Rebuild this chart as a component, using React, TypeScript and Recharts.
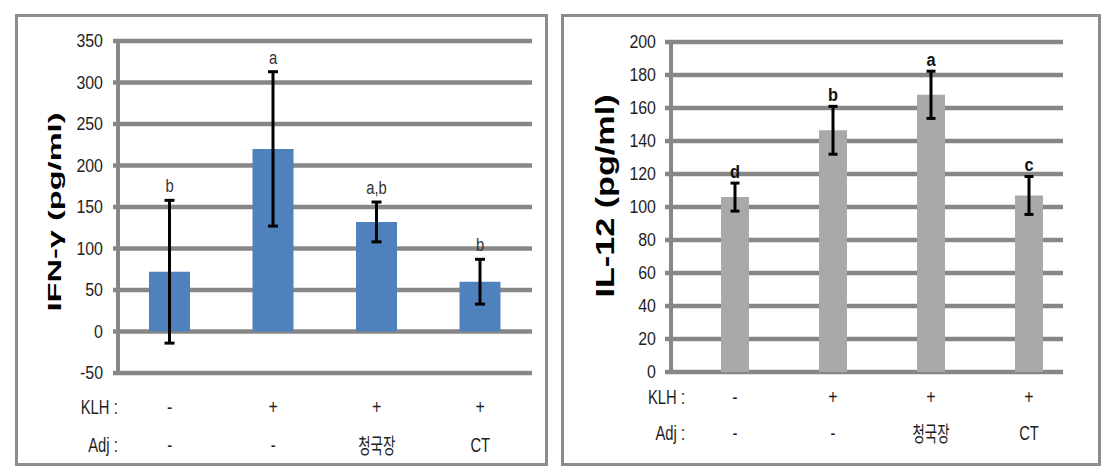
import React from "react"
import { Bar, BarChart, CartesianGrid, ErrorBar, LabelList, XAxis, YAxis } from "recharts"

const groups = ["g1", "g2", "g3", "g4"]
const klhRow = ["-", "+", "+", "+"]
const adjRow = ["-", "-", "청국장", "CT"]

const ifnMean = [72, 220, 132, 60]
const ifnErr = [86, 93, 24, 27]
const ifnSig = ["b", "a", "a,b", "b"]
const ifnTicks = [-50, 0, 50, 100, 150, 200, 250, 300, 350]

const il12Mean = [106, 146.5, 168, 107]
const il12Err = [8.5, 14.5, 14.3, 11.5]
const il12Sig = ["d", "b", "a", "c"]
const il12Ticks = [0, 20, 40, 60, 80, 100, 120, 140, 160, 180, 200]

const SANS = "'Liberation Sans', Arial, 'Noto Sans CJK KR', sans-serif"
const GRID = "#878787"
const TEXT = "#1e1e1e"

const buildRows = (mean: number[], err: number[], sig: string[]) =>
  groups.map((g, i) => ({ group: g, mean: mean[i], err: err[i], sig: sig[i] }))

// the source figure uses a tall, narrow face: squeeze a regular sans sideways
type NarrowProps = {
  x: number
  y: number
  anchor: "start" | "middle" | "end"
  size?: number
  sx?: number
  bold?: boolean
  fill?: string
  baseline?: "central" | "auto"
  children: React.ReactNode
}
const NarrowText = ({ x, y, anchor, size = 19, sx = 0.8, bold, fill = TEXT, baseline = "central", children }: NarrowProps) => (
  <g transform={`translate(${x},${y}) scale(${sx},1)`}>
    <text
      x={0}
      y={0}
      textAnchor={anchor}
      dominantBaseline={baseline}
      fontFamily={SANS}
      fontSize={size}
      fontWeight={bold ? 700 : 400}
      fill={fill}
    >
      {children}
    </text>
  </g>
)

const gridLine = (extendLeft: number, trimRight: number) => (p: any) => (
  <line
    key={p.key}
    x1={p.x1 - extendLeft}
    x2={p.x2 - trimRight}
    y1={p.y1}
    y2={p.y2}
    stroke={GRID}
    strokeWidth={4.5}
  />
)

const yTick = (p: any) => (
  <NarrowText x={p.x} y={p.y} anchor="end" sx={0.84}>
    {p.payload.value}
  </NarrowText>
)

const xTick = (row1: number, row2: number, headDx: number) => (props: any) => {
  const { x, y, index } = props
  const adj = adjRow[index]
  return (
    <g>
      {index === 0 && (
        <>
          <NarrowText x={x - headDx} y={y + row1} anchor="end" size={20} sx={0.74}>KLH :</NarrowText>
          <NarrowText x={x - headDx} y={y + row2} anchor="end" size={20} sx={0.74}>Adj :</NarrowText>
        </>
      )}
      <NarrowText x={x} y={y + row1} anchor="middle" size={20}>{klhRow[index]}</NarrowText>
      {adj === "청국장" ? (
        <text
          x={x}
          y={y + row2}
          textAnchor="middle"
          dominantBaseline="central"
          fontFamily={SANS}
          fontSize={21}
          fill={TEXT}
          textLength={37}
          lengthAdjust="spacingAndGlyphs"
        >
          {adj}
        </text>
      ) : (
        <NarrowText x={x} y={y + row2} anchor="middle" size={20} sx={0.74}>{adj}</NarrowText>
      )}
    </g>
  )
}

const sigLabel = (mean: number[], err: number[], bold: boolean, gap: number) => (props: any) => {
  const vb = props.viewBox ?? props
  const i = props.index
  const errPx = (vb.height * err[i]) / mean[i]
  return (
    <NarrowText
      x={vb.x + vb.width / 2}
      y={vb.y - errPx - gap}
      anchor="middle"
      baseline="auto"
      size={19}
      bold={bold}
      sx={bold ? 0.86 : 0.78}
      fill={bold ? "#111" : "#333"}
    >
      {props.value}
    </NarrowText>
  )
}

type TitleProps = { text: string; cx: number; cy: number; size: number; length: number }
const AxisTitle = ({ text, cx, cy, size, length }: TitleProps) => (
  <text
    x={cx}
    y={cy}
    transform={`rotate(-90 ${cx} ${cy})`}
    textAnchor="middle"
    dominantBaseline="central"
    fontFamily={SANS}
    fontWeight={700}
    fontSize={size}
    textLength={length}
    lengthAdjust="spacingAndGlyphs"
    fill="#000"
  >
    {text}
  </text>
)

const boxStyle = (left: number, width: number): React.CSSProperties => ({
  position: "absolute",
  left,
  top: 14,
  width,
  height: 452,
  border: "3px solid #8c8c8c",
  boxSizing: "border-box",
})

export default function App() {
  const ifnData = buildRows(ifnMean, ifnErr, ifnSig)
  const il12Data = buildRows(il12Mean, il12Err, il12Sig)

  return (
    <div style={{ position: "absolute", left: 0, top: 0, width: 1110, height: 473, background: "#fff" }}>
      <div style={boxStyle(15, 533)} />
      <div style={boxStyle(561, 540)} />

      <div style={{ position: "absolute", left: 0, top: 0 }}>
        <BarChart width={560} height={473} data={ifnData} margin={{ top: 41, right: 28, bottom: 0, left: 58 }}>
          <CartesianGrid vertical={false} horizontal={gridLine(5, 0)} />
          <XAxis
            dataKey="group"
            height={100}
            axisLine={false}
            tickLine={false}
            tickSize={0}
            tickMargin={0}
            interval={0}
            tick={xTick(34, 72, 52)}
          />
          <YAxis
            width={60}
            domain={[-50, 350]}
            ticks={ifnTicks}
            interval={0}
            axisLine={{ stroke: GRID, strokeWidth: 4 }}
            tickLine={false}
            tickSize={6}
            tickMargin={9}
            tick={yTick}
            label={<AxisTitle text="IFN-γ (pg/ml)" cx={54} cy={212} size={19} length={199} />}
          />
          <Bar dataKey="mean" fill="#4f81bd" barSize={41} isAnimationActive={false}>
            <ErrorBar dataKey="err" width={5} strokeWidth={3} stroke="#000" isAnimationActive={false} />
            <LabelList dataKey="sig" content={sigLabel(ifnMean, ifnErr, false, 8)} />
          </Bar>
        </BarChart>
      </div>

      <div style={{ position: "absolute", left: 555, top: 0 }}>
        <BarChart width={555} height={473} data={il12Data} margin={{ top: 42, right: 32, bottom: 0, left: 56 }}>
          <CartesianGrid vertical={false} horizontal={gridLine(6, 15)} />
          <XAxis
            dataKey="group"
            height={101}
            axisLine={false}
            tickLine={false}
            tickSize={0}
            tickMargin={0}
            interval={0}
            padding={{ left: 15, right: 0 }}
            tick={xTick(25, 61, 50)}
          />
          <YAxis
            width={60}
            domain={[0, 200]}
            ticks={il12Ticks}
            interval={0}
            axisLine={{ stroke: GRID, strokeWidth: 4 }}
            tickLine={false}
            tickSize={6}
            tickMargin={9}
            tick={yTick}
            label={<AxisTitle text="IL-12 (pg/ml)" cx={50} cy={196} size={25} length={203} />}
          />
          <Bar dataKey="mean" fill="#a9a9a9" barSize={28} isAnimationActive={false}>
            <ErrorBar dataKey="err" width={4.5} strokeWidth={3} stroke="#000" isAnimationActive={false} />
            <LabelList dataKey="sig" content={sigLabel(il12Mean, il12Err, true, 5)} />
          </Bar>
        </BarChart>
      </div>
    </div>
  )
}
